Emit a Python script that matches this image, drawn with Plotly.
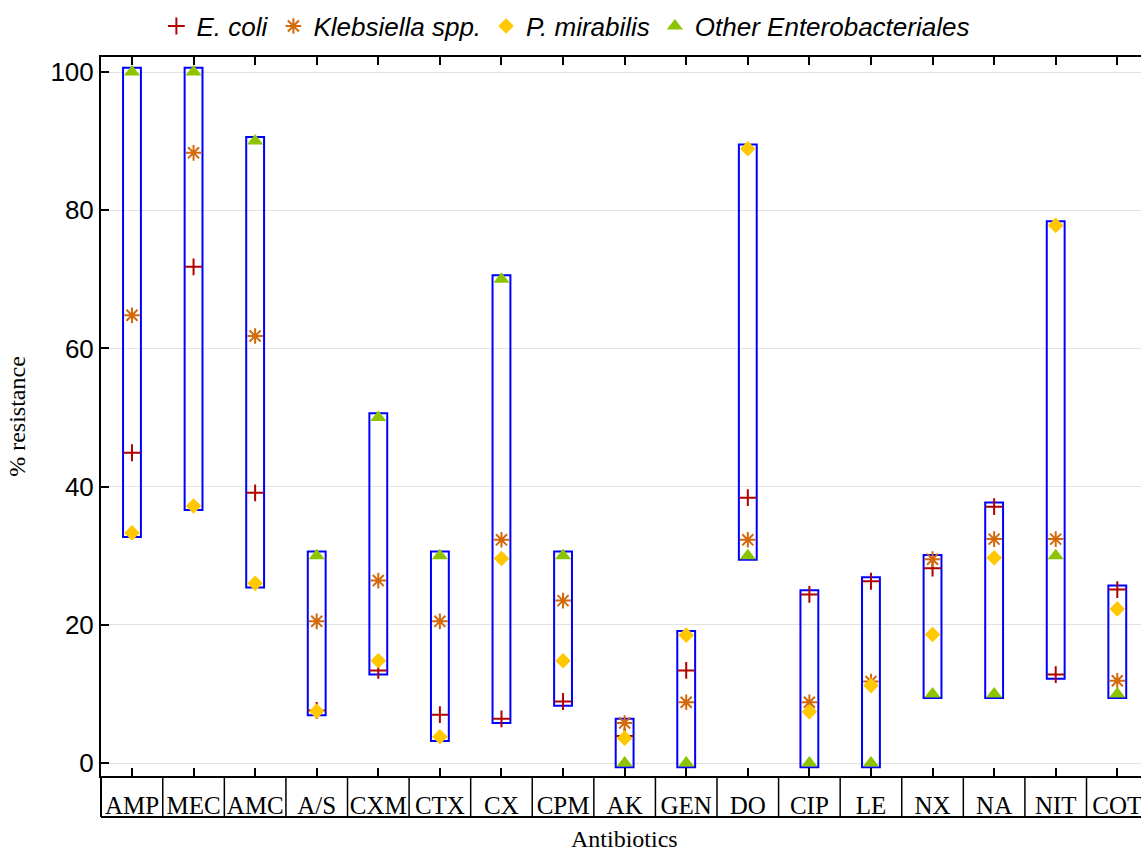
import plotly.graph_objects as go

# ---------------- data ----------------
antibiotics = ["AMP", "MEC", "AMC", "A/S", "CXM", "CTX", "CX", "CPM", "AK",
               "GEN", "DO", "CIP", "LE", "NX", "NA", "NIT", "COT"]
e_coli      = [44.9, 71.8, 39.1, 7.6, 13.4, 7.0, 6.4, 8.9, 3.9, 13.4, 38.4, 24.4, 26.3, 28.2, 37.1, 12.8, 25.1]
klebsiella  = [64.8, 88.3, 61.8, 20.5, 26.4, 20.5, 32.3, 23.5, 5.8, 8.8, 32.3, 8.8, 11.8, 29.5, 32.4, 32.4, 11.9]
p_mirabilis = [33.3, 37.2, 26.0, 7.5, 14.8, 3.8, 29.6, 14.8, 3.6, 18.5, 88.9, 7.4, 11.2, 18.6, 29.7, 77.8, 22.3]
other_ent   = [100.0, 100.0, 90.0, 30.0, 50.0, 30.0, 70.0, 30.0, 0.0, 0.0, 30.0, 0.0, 0.0, 10.0, 10.0, 30.0, 10.0]
y_ticks = [0, 20, 40, 60, 80, 100]

series = [
    ("E. coli", e_coli),
    ("Klebsiella spp.", klebsiella),
    ("P. mirabilis", p_mirabilis),
    ("Other Enterobacteriales", other_ent),
]

# ---------------- styles ----------------
styles = {
    "E. coli": dict(symbol="cross-thin", size=12, color="#b00000",
                    line=dict(color="#b00000", width=2)),
    "Klebsiella spp.": dict(symbol="asterisk", size=13, color="#d2690a",
                            line=dict(color="#d2690a", width=2)),
    "P. mirabilis": dict(symbol="diamond", size=12, color="#ffc800",
                         line=dict(width=0)),
    "Other Enterobacteriales": dict(symbol="triangle-up", size=14, color="#8cc400",
                                    line=dict(width=0)),
}

pad = 0.6
lows = [min(v) for v in zip(*[s[1] for s in series])]
highs = [max(v) for v in zip(*[s[1] for s in series])]

fig = go.Figure()
fig.add_trace(go.Bar(
    x=antibiotics,
    base=[lo - pad for lo in lows],
    y=[hi - lo + 2 * pad for lo, hi in zip(lows, highs)],
    width=0.29,
    marker=dict(color="rgba(0,0,0,0)", line=dict(color="#0000ff", width=2)),
    showlegend=False, hoverinfo="skip",
))
for name, vals in series:
    fig.add_trace(go.Scatter(
        x=antibiotics, y=vals, mode="markers", name=name,
        marker=styles[name], cliponaxis=False,
    ))

x0, x1 = -0.503, 16.385
y0, y1 = -1.88, 102.17
table_h = -41 / 719  # label table below axis, in paper units

shapes = []
n = len(antibiotics)
for i in range(n - 1):
    xp = (i + 0.5 - x0) / (x1 - x0)
    shapes.append(dict(type="line", xref="paper", yref="paper", x0=xp, x1=xp,
                       y0=table_h, y1=0, line=dict(color="black", width=1.5)))
shapes.append(dict(type="line", xref="paper", yref="paper", x0=0, x1=1,
                   y0=table_h, y1=table_h, line=dict(color="black", width=2)))
shapes.append(dict(type="line", xref="paper", yref="paper", x0=0, x1=0,
                   y0=table_h, y1=0, line=dict(color="black", width=2)))

fig.update_layout(
    width=1141, height=852,
    margin=dict(l=101, r=0, t=57, b=76, autoexpand=False),
    plot_bgcolor="white", paper_bgcolor="white",
    barmode="overlay",
    shapes=shapes,
    annotations=[dict(text="Antibiotics", xref="paper", yref="paper",
                      x=0.503, y=-0.0875, xanchor="center", yanchor="middle",
                      showarrow=False,
                      font=dict(family="Liberation Serif", size=24, color="black"))],
    legend=dict(
        orientation="h", x=0.447, xanchor="center", y=1.043, yanchor="middle",
        font=dict(family="Liberation Sans", size=26, color="black", style="italic"),
        itemwidth=30, bgcolor="rgba(0,0,0,0)",
    ),
    xaxis=dict(
        type="category", categoryorder="array", categoryarray=antibiotics,
        range=[x0, x1], showline=True, linecolor="black", linewidth=2,
        mirror="ticks", ticks="inside", ticklen=8, tickwidth=1.5, tickcolor="black",
        showgrid=False, zeroline=False, automargin=False,
        tickfont=dict(family="Liberation Serif", size=25, color="black"),
        ticklabelstandoff=6,
    ),
    yaxis=dict(
        range=[y0, y1], tickvals=y_ticks, showline=True, linecolor="black", linewidth=2,
        ticks="inside", ticklen=8, tickwidth=1.5, tickcolor="black",
        showgrid=True, gridcolor="#e2e2e2", gridwidth=1, zeroline=False, automargin=False,
        tickfont=dict(family="Liberation Sans", size=26, color="black"),
        title=dict(text="% resistance", font=dict(family="Liberation Serif", size=24, color="black"),
                   standoff=18),
    ),
)

fig.write_html("out.html")
